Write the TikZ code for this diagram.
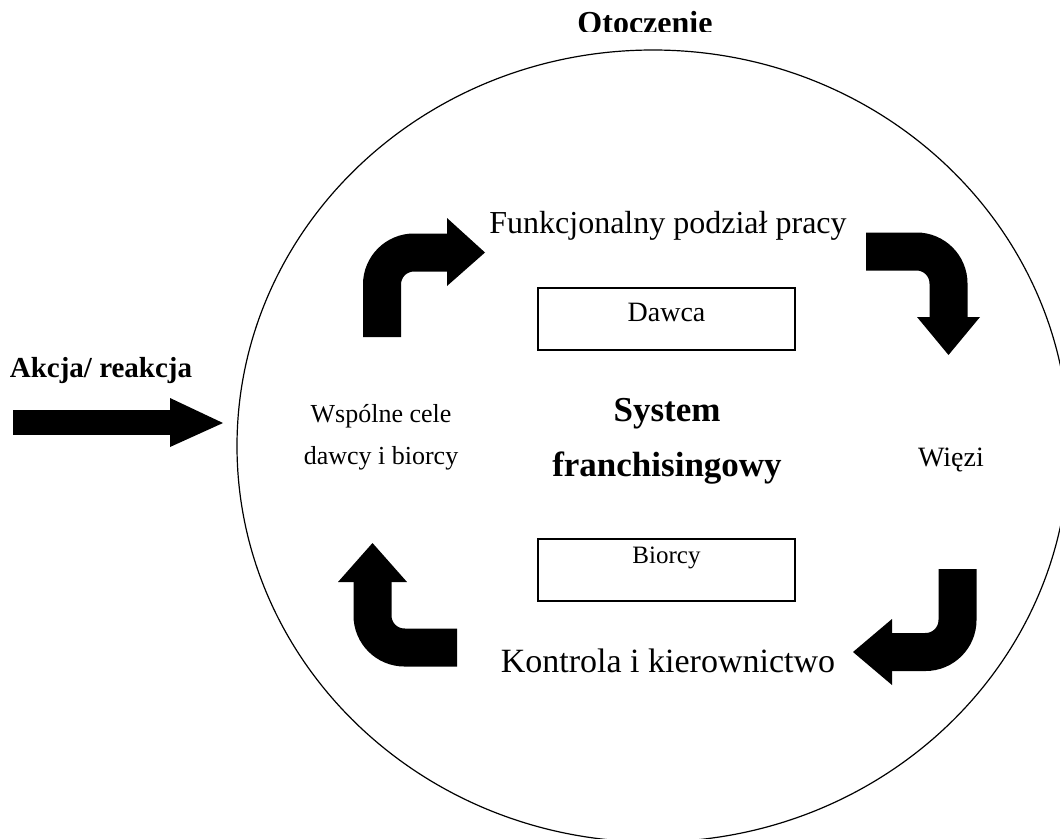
\documentclass[tikz,border=0pt]{standalone}
\usepackage{fontspec}
\setmainfont{Liberation Serif}
\usetikzlibrary{positioning}

\tikzset{
  bentarrow/.style={line width=38pt, rounded corners=32pt},
  tagbox/.style={draw, line width=1.2pt, minimum width=257pt, minimum height=62pt},
  plaintext/.style={font=\fontsize{32}{42}\selectfont, align=center},
  boldtext/.style={font=\bfseries\fontsize{32}{36}\selectfont, align=center},
}

\begin{document}
\begin{tikzpicture}[x=1pt, y=-1pt]
        \useasboundingbox (0,0) rectangle (1060,838);
        \clip (0,0) rectangle (1060,838);

        % otoczenie (cut off at the bottom, as printed)
        \draw[line width=1.2pt] (653,446) ellipse [x radius=416, y radius=396];
        \begin{scope}
          \clip (0,0) rectangle (1060,31);
          \node[boldtext] (otoczenie) at (645,23) {Otoczenie};
        \end{scope}

        % akcja / reakcja from outside
        \node[boldtext, font=\bfseries\fontsize{29}{32}\selectfont] (akcja) at (101,371) {Akcja/ reakcja};
        \fill (13,410) rectangle (170,435);
        \fill (170,398) -- (223,423) -- (170,447) -- cycle;

        % inside the system
        \node[plaintext] (podzial) at (668,226) {Funkcjonalny podział pracy};
        \node[tagbox] (dawca) at (666.5,319) {};
        \node[font=\fontsize{28}{30}\selectfont] at ([yshift=7pt]dawca.center) {Dawca};
        \node[boldtext, font=\bfseries\fontsize{35}{55}\selectfont] (system) at (667,441) {System\\franchisingowy};
        \node[plaintext, font=\fontsize{26}{42}\selectfont] (cele) at (381,437) {Wspólne cele\\dawcy i biorcy};
        \node[plaintext, font=\fontsize{28}{32}\selectfont] (wiezi) at (951,460) {Więzi};
        \node[tagbox] (biorcy) at (666.5,570) {};
        \node[font=\fontsize{25}{30}\selectfont] at ([yshift=12pt]biorcy.center) {Biorcy};
        \node[plaintext, font=\fontsize{34}{36}\selectfont] (kontrola) at (668,661) {Kontrola i kierownictwo};

        % bent arrows round the cycle
        \draw[bentarrow] (382,337) -- (382,252.5) -- (447,252.5);
        \fill (447,218) -- (485,252.5) -- (447,286) -- cycle;

        \draw[bentarrow] (866,251.5) -- (948.5,251.5) -- (948.5,317);
        \fill (917,317) -- (948.5,355) -- (980,317) -- cycle;

        \draw[bentarrow] (957.5,569) -- (957.5,652) -- (892,652);
        \fill (892,619) -- (853,652) -- (892,685) -- cycle;

        \draw[bentarrow] (457,647.5) -- (372.5,647.5) -- (372.5,582);
        \fill (338,582) -- (372.5,543) -- (407,582) -- cycle;
\end{tikzpicture}
\end{document}
